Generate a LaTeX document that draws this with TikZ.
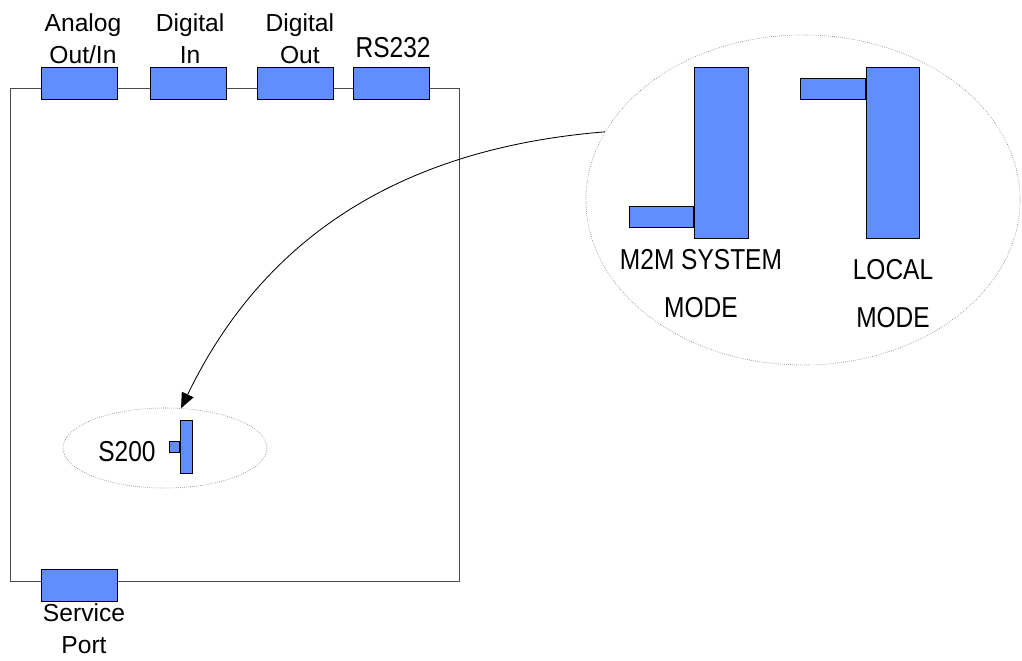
\documentclass[tikz,border=0pt]{standalone}
\usepackage{fontspec}
\setmainfont{Liberation Sans}
\newfontfamily\narrowsans{Liberation Sans}[FakeStretch=0.85]
\usetikzlibrary{positioning,shapes.geometric,arrows.meta}
\definecolor{portblue}{RGB}{97,142,255}
\begin{document}
\begin{tikzpicture}[x=0.025cm,y=-0.025cm,
  port/.style={draw=black,fill=portblue,line width=0.6pt,inner sep=0pt,minimum width=1.9cm,minimum height=0.8cm},
  lbl/.style={font=\fontsize{17.5}{22.5}\selectfont,align=center,inner sep=0pt},
  caplbl/.style={font=\narrowsans\fontsize{20.5}{34}\selectfont,align=center,inner sep=0pt},
  zoomell/.style={ellipse,draw=gray!80!black,densely dotted,line width=0.4pt,inner sep=0pt}]
\useasboundingbox (0,0) rectangle (1022,660);
% unit outline
\draw[gray!60!black,line width=0.7pt] (10,88) rectangle (459,581);
% ports
\node[port](aport)at(79,83){};
\node[port](diport)at(188.5,83){};
\node[port](doport)at(295.5,83){};
\node[port](rsport)at(391.5,83){};
\node[port](sport)at(79,585){};
\node[lbl,above=0.075cm of aport,xshift=0.1cm](alabel){Analog\\Out/In};
\node[lbl,above=0.075cm of diport,xshift=0.04cm](dilabel){Digital\\In};
\node[lbl,above=0.075cm of doport,xshift=0.11cm](dolabel){Digital\\Out};
\node[caplbl,above=0.225cm of rsport,xshift=0.04cm](rslabel){RS232};
\node[lbl,below=0.05cm of sport,xshift=0.125cm](slabel){Service\\Port};
% switch on the board
\node[zoomell,minimum width=5.1cm,minimum height=2cm](smallell)at(165,448){};
\node[port,minimum width=0.3cm,minimum height=1.325cm](sbar)at(186,446.5){};
\node[port,minimum width=0.25cm,minimum height=0.275cm,left=0pt of sbar](stab){};
\node[caplbl,anchor=base](s200)at(127,461){S200};
% zoomed switch
\node[zoomell,minimum width=10.85cm,minimum height=8.25cm](bigell)at(803,200){};
\node[port,minimum width=1.35cm,minimum height=4.275cm](m2mbar)at(721,152.5){};
\node[port,minimum width=1.6cm,minimum height=0.525cm,anchor=south east](m2mtab)at([yshift=0.275cm]m2mbar.south west){};
\node[port,minimum width=1.325cm,minimum height=4.275cm](localbar)at(892.5,152.5){};
\node[port,minimum width=1.625cm,minimum height=0.525cm,anchor=north east](localtab)at([yshift=-0.275cm]localbar.north west){};
\node[caplbl,anchor=south](m2mlbl)at(701,318){M2M SYSTEM\\MODE};
\node[caplbl,anchor=south](locallbl)at(893,328){LOCAL\\MODE};
\draw[-{Triangle[length=0.38cm,width=0.32cm]},line width=0.6pt](bigell.161) .. controls (380,150) and (255,255) .. (smallell.68);
\end{tikzpicture}
\end{document}
